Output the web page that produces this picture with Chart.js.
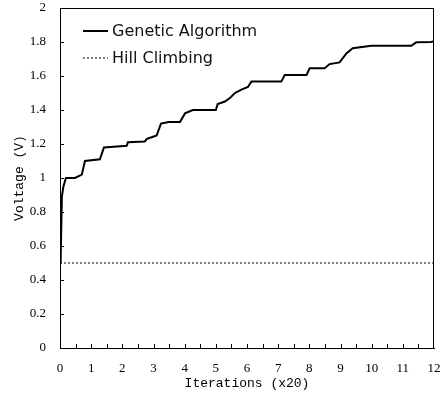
<!DOCTYPE html>
<html>
<head>
<meta charset="utf-8">
<script src="https://cdn.jsdelivr.net/npm/chart.js@4"></script>
<style>
  html, body { margin: 0; padding: 0; background: #fff; }
  #wrap { width: 441px; height: 395px; }
</style>
</head>
<body>
<div id="wrap"><canvas id="chart"></canvas></div>
<script>
// Genetic Algorithm best voltage per iteration (x20)
const gaX = [0, 0.02, 0.06, 0.11, 0.19, 0.48, 0.70, 0.80, 1.28, 1.41, 2.14, 2.18, 2.72, 2.79, 2.94, 3.10, 3.24, 3.49, 3.85, 4.01, 4.26, 5.00, 5.06, 5.29, 5.45, 5.61, 5.82, 6.03, 6.14, 7.10, 7.21, 7.91, 8.01, 8.49, 8.65, 8.97, 9.19, 9.39, 9.99, 11.27, 11.43, 11.91, 12];
const gaY = [0.50, 0.51, 0.89, 0.95, 1.00, 1.00, 1.02, 1.10, 1.11, 1.18, 1.19, 1.21, 1.215, 1.23, 1.24, 1.25, 1.32, 1.33, 1.33, 1.38, 1.40, 1.40, 1.435, 1.45, 1.47, 1.50, 1.52, 1.535, 1.567, 1.567, 1.606, 1.606, 1.645, 1.645, 1.67, 1.68, 1.733, 1.763, 1.778, 1.778, 1.798, 1.80, 1.805];

// Hill Climbing stays flat
const hcX = [0, 12];
const hcY = [0.5, 0.5];

const seriesNames = ['Genetic Algorithm', 'Hill Climbing'];
const xTitle = 'Iterations (x20)';
const yTitle = 'Voltage (V)';

const toPoints = (xs, ys) => xs.map((x, i) => ({ x: x, y: ys[i] }));

// box, inside ticks and legend drawn over the chart area
const framePlugin = {
  id: 'frame',
  afterDraw(chart) {
    const ctx = chart.ctx;
    const a = chart.chartArea;
    const xs = chart.scales.x;
    const ys = chart.scales.y;
    ctx.save();
    ctx.strokeStyle = '#000';
    ctx.lineWidth = 1;
    ctx.strokeRect(a.left + 0.5, a.top + 0.5, a.right - a.left - 1, a.bottom - a.top);

    // inside ticks
    ctx.beginPath();
    for (let v = 0.5; v < 12; v += 0.5) {
      const px = Math.round(xs.getPixelForValue(v)) + 0.5;
      ctx.moveTo(px, a.bottom);
      ctx.lineTo(px, a.bottom - 4);
    }
    for (let v = 0.2; v < 2; v += 0.2) {
      const py = Math.round(ys.getPixelForValue(v)) + 0.5;
      ctx.moveTo(a.left, py);
      ctx.lineTo(a.left + 4, py);
    }
    ctx.stroke();

    // legend
    const sets = chart.data.datasets;
    ctx.font = '16px "DejaVu Sans", sans-serif';
    ctx.fillStyle = '#111';
    ctx.textBaseline = 'middle';
    sets.forEach((ds, i) => {
      const y = a.top + 23 + i * 27;
      ctx.beginPath();
      ctx.lineWidth = ds.borderWidth;
      ctx.setLineDash(ds.borderDash || []);
      ctx.moveTo(a.left + 23, y);
      ctx.lineTo(a.left + 48, y);
      ctx.stroke();
      ctx.setLineDash([]);
      ctx.fillText(ds.label, a.left + 52, y + 1);
    });
    ctx.restore();
  }
};

new Chart(document.getElementById('chart'), {
  type: 'line',
  data: {
    datasets: [
      {
        label: seriesNames[0],
        data: toPoints(gaX, gaY),
        borderColor: '#000',
        borderWidth: 2,
        pointRadius: 0,
        tension: 0
      },
      {
        label: seriesNames[1],
        data: toPoints(hcX, hcY),
        borderColor: '#000',
        borderWidth: 1,
        borderDash: [2, 2],
        pointRadius: 0
      }
    ]
  },
  options: {
    responsive: true,
    maintainAspectRatio: false,
    animation: false,
    layout: { padding: { left: 0, top: 8, right: 7, bottom: 0 } },
    plugins: {
      legend: { display: false },
      tooltip: { enabled: false }
    },
    scales: {
      x: {
        type: 'linear',
        min: 0,
        max: 12,
        grid: { display: false },
        border: { color: '#000' },
        ticks: {
          stepSize: 1,
          padding: 5,
          color: '#000',
          maxRotation: 0,
          font: { family: '"Liberation Serif", serif', size: 13 }
        },
        title: {
          display: true,
          text: xTitle,
          color: '#000',
          padding: { top: 0, bottom: 4 },
          font: { family: '"Liberation Mono", monospace', size: 13 }
        },
        afterFit(scale) {
          scale.height = 47;
          scale.paddingLeft = 0;
          scale.paddingRight = 0;
        }
      },
      y: {
        min: 0,
        max: 2,
        grid: { display: false },
        border: { color: '#000' },
        ticks: {
          stepSize: 0.2,
          padding: 6,
          color: '#000',
          font: { family: '"Liberation Serif", serif', size: 13 },
          callback: v => String(Number(v.toFixed(1)))
        },
        title: {
          display: true,
          text: yTitle,
          color: '#000',
          padding: { top: 12, bottom: 0 },
          font: { family: '"Liberation Mono", monospace', size: 13 }
        },
        afterFit(scale) {
          scale.width = 60;
          scale.paddingTop = 0;
          scale.paddingBottom = 0;
        }
      }
    }
  },
  plugins: [framePlugin]
});
</script>
</body>
</html>
